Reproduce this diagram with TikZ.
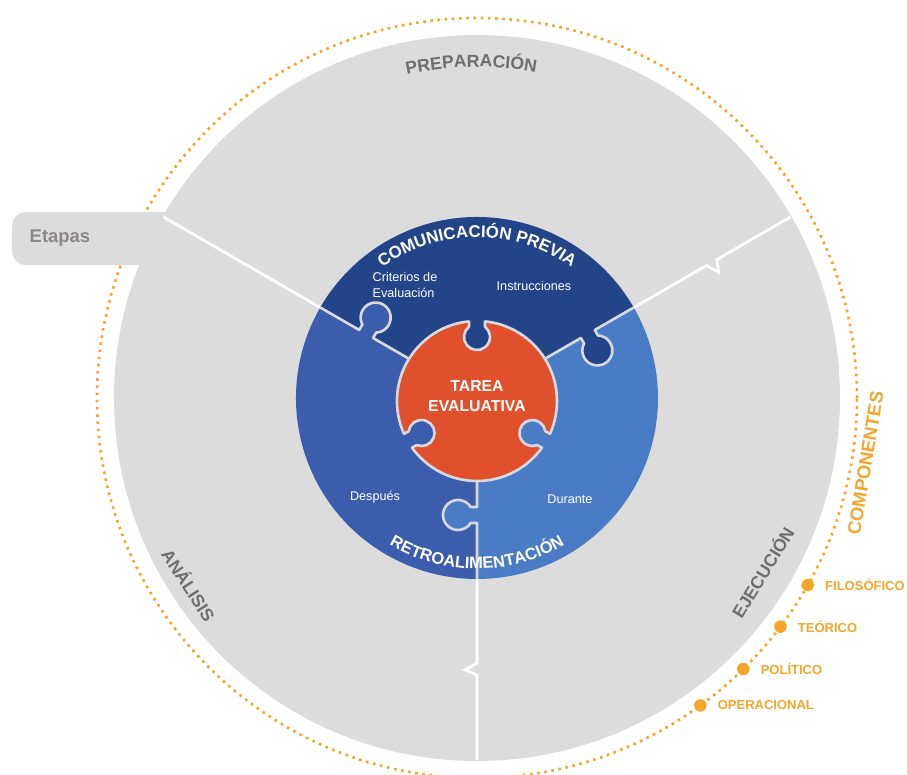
\documentclass[tikz,border=0pt]{standalone}
\usepackage{fontspec}
\setmainfont{Liberation Sans}
\usepackage{xcolor}
\usepackage{tikz}
\usetikzlibrary{positioning,decorations.text}
\definecolor{panelgray}{HTML}{DCDCDC}
\definecolor{labelgray}{HTML}{6E6E6E}
\definecolor{tabtext}{HTML}{8C8888}
\definecolor{navyblue}{HTML}{24448A}
\definecolor{midblue}{HTML}{3B5DAC}
\definecolor{lightblue}{HTML}{4A7CC6}
\definecolor{taskred}{HTML}{E0502D}
\definecolor{comporange}{HTML}{F4A62A}
\definecolor{seamgray}{HTML}{D6D9E0}

\begin{document}
\begin{tikzpicture}[x=0.02cm, y=0.02cm, font=\bfseries,
  seam/.style={draw=seamgray, line width=1.5pt, line join=round},
  divider/.style={draw=white, line width=1.6pt, line join=miter},
  arctext/.style={decorate, decoration={text along path, text align=center, text={#1}}},
  stage/.style={text=labelgray, font=\bfseries\fontsize{10}{12}\selectfont, inner sep=0pt},
  piece/.style={font=\fontsize{7.2}{8.6}\selectfont, text=white, align=left, inner sep=0pt},
  dot/.style={circle, fill=comporange, inner sep=0pt, minimum size=0.25cm},
  comp/.style={font=\bfseries\fontsize{7.4}{8}\selectfont, text=comporange, inner sep=0pt}]
\useasboundingbox (-477,-377) rectangle (430,398);
% --- dotted ring of components ---
\draw[comporange, line width=1.5pt, dash pattern=on 1.5pt off 2.6pt] (0,0) circle[radius=380];
% --- stages tab and disc ---
\fill[panelgray, rounded corners=8pt] (-465,133) rectangle (-300,186);
\node[text=tabtext, font=\bfseries\fontsize{10.5}{12}\selectfont] (etapas) at (-417,160) {Etapas};
\fill[panelgray] (0,0) circle[radius=363];
\foreach \a in {30,270}
  \draw[divider, rotate=\a] (181,0) -- (265,0) -- (272,-12) -- (277,0) -- (362,0);
\draw[divider, rotate=150] (181,0) -- (362,0);
\path[arctext=|\bfseries\fontsize{10}{12}\selectfont\color{labelgray}|PREPARACIÓN]
  (121:331) arc[start angle=121, end angle=61, radius=331];
\node[stage, rotate=-57] (analisis) at (213:343) {ANÁLISIS};
\node[stage, rotate=58.6] (ejecucion) at (-31.4:334) {EJECUCIÓN};
% --- puzzle pieces ---
\fill[navyblue] (0,0) -- (30:181) arc[start angle=30, end angle=150, radius=181] -- cycle;
\fill[midblue] (0,0) -- (150:181) arc[start angle=150, end angle=270, radius=181] -- cycle;
\fill[lightblue] (0,0) -- (270:181) arc[start angle=270, end angle=390, radius=181] -- cycle;
\foreach \a/\c/\k in {30/navyblue/128, 150/midblue/128, 270/lightblue/117} {
  \fill[\c, rotate=\a] (\k-8,3) -- (\k-8,-6.3)
    arc[start angle=122.2, end angle=417.8, radius=15] -- (\k+8,3) -- cycle;
  \draw[seam, rotate=\a] (76,0) -- (\k-8,0) -- (\k-8,-6.3)
    arc[start angle=122.2, end angle=417.8, radius=15] -- (\k+8,0) -- (181,0);
}
% --- task in the middle ---
\begin{scope}[shift={(0,-3)}]
\draw[seam, fill=taskred] (0,0) circle[radius=80];
\foreach \a/\c in {90/navyblue, 210/midblue, 330/lightblue} {
  \fill[\c, rotate=\a] (85,8) -- (74.25,8)
    arc[start angle=38, end angle=322, radius=13] -- (85,-8) -- cycle;
  \draw[seam, rotate=\a] (80.5,8) -- (74.25,8)
    arc[start angle=38, end angle=322, radius=13] -- (80.5,-8);
}
\end{scope}
\node[text=white, font=\bfseries\fontsize{9}{11}\selectfont, align=center] (tarea) at (0,2)
  {TAREA\\EVALUATIVA};
\path[arctext=|\bfseries\fontsize{9.6}{11}\selectfont\color{white}|COMUNICACIÓN PREVIA]
  (140:161) arc[start angle=140, end angle=40, radius=161];
\path[arctext=|\bfseries\fontsize{9.4}{11}\selectfont\color{white}|RETROALIMENTACIÓN]
  (220:171) arc[start angle=220, end angle=320, radius=171];
\node[piece] (criterios) at (-72,113) {Criterios de\\Evaluación};
\node[piece] (instrucciones) at (57,112) {Instrucciones};
\node[piece] (despues) at (-102,-99) {Después};
\node[piece] (durante) at (93,-101) {Durante};
% --- components ---
\node[text=comporange, font=\bfseries\fontsize{10.5}{12}\selectfont, inner sep=0pt, rotate=80.5]
  (componentes) at (-9.5:394) {COMPONENTES};
\foreach \a/\t/\n in {-29.5/FILOSÓFICO/filosofico, -37/TEÓRICO/teorico,
                      -45.5/POLÍTICO/politico, -54/OPERACIONAL/operacional} {
  \node[dot] (d\n) at (\a:380) {};
  \node[comp, right=6pt of d\n] (\n) {\t};
}
\end{tikzpicture}
\end{document}
